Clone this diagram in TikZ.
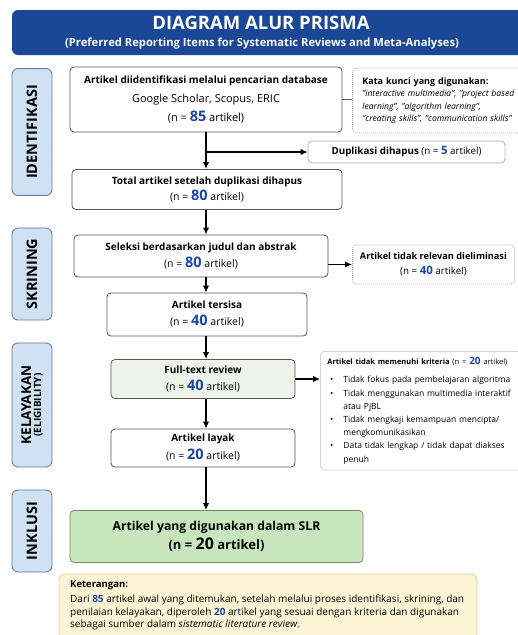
\documentclass[tikz,border=0pt]{standalone}
\usepackage{fontspec}
\setmainfont{Open Sans}
\usetikzlibrary{arrows.meta}

\definecolor{hdrblue}{RGB}{26,72,150}
\definecolor{numblue}{RGB}{28,68,160}
\definecolor{stagefill}{RGB}{207,226,243}
\definecolor{stageline}{RGB}{100,118,145}
\definecolor{boxgray}{RGB}{85,85,85}
\definecolor{sidegray}{RGB}{175,175,175}
\definecolor{ftfill}{RGB}{238,243,234}
\definecolor{slrfill}{RGB}{200,230,190}
\definecolor{slrline}{RGB}{105,145,95}
\definecolor{notefill}{RGB}{253,244,214}
\definecolor{noteline}{RGB}{228,208,145}

\newcommand{\nval}[1]{{\color{numblue}\bfseries\fontsize{14.5}{14}\selectfont #1}}
\newcommand{\sval}[1]{{\color{numblue}\bfseries\fontsize{11.5}{11}\selectfont #1}}

\begin{document}
\begin{tikzpicture}[x=1pt,y=-1pt,
    box/.style={draw=boxgray, fill=white, rounded corners=4pt, line width=0.8pt, align=center, inner sep=0pt},
    stage/.style={draw=stageline, fill=stagefill, rounded corners=6pt, line width=0.8pt, rotate=90, minimum height=40pt, align=center, inner sep=0pt},
    side/.style={draw=sidegray, fill=white, dash pattern=on 1pt off 1pt, rounded corners=4pt, line width=0.8pt, inner sep=0pt},
    flow/.style={-{Latex[length=7pt,width=6.5pt]}, line width=1.4pt}]
    \useasboundingbox (0,0) rectangle (518,635);
    \clip (0,0) rectangle (518,635);

    % Header %
    \fill[hdrblue, rounded corners=6pt] (12,10) rectangle (540,55);
    \node[text=white, font=\bfseries\fontsize{18.5}{18}\selectfont] (ttl) at (261,23) {DIAGRAM ALUR PRISMA};
    \node[text=white, font=\bfseries\fontsize{11.2}{11}\selectfont] (sub) at (262,43.5) {(Preferred Reporting Items for Systematic Reviews and Meta-Analyses)};

    % Stages %
    \node[stage, minimum width=127pt, font=\bfseries\fontsize{14.5}{15}\selectfont] (sid) at (32,132) {IDENTIFIKASI};
    \node[stage, minimum width=92pt, font=\bfseries\fontsize{14.5}{15}\selectfont] (ssk) at (32,274) {SKRINING};
    \node[stage, minimum width=124pt] (skl) at (32,405) {{\bfseries\fontsize{13.5}{14}\selectfont KELAYAKAN}\\[-2pt]{\bfseries\fontsize{10}{11}\selectfont (ELIGIBILITY)}};
    \node[stage, minimum width=82pt, font=\bfseries\fontsize{14.5}{15}\selectfont] (sin) at (32,531) {INKLUSI};

    % Main boxes %
    \coordinate (col) at (206,0);
    \node[box, minimum width=272pt, minimum height=65pt, font=\fontsize{11}{19}\selectfont] (idb) at (206,99.5)
        {{\bfseries\fontsize{10}{17}\selectfont Artikel diidentifikasi melalui pencarian database}\\Google Scholar, Scopus, ERIC\\(n = \nval{85} artikel)};
    \node[box, minimum width=270pt, minimum height=40pt, font=\fontsize{10.5}{16.5}\selectfont] (totb) at (207,189.5)
        {{\bfseries\fontsize{10}{16.5}\selectfont Total artikel setelah duplikasi dihapus}\\(n = \nval{80} artikel)};
    \node[box, minimum width=254pt, minimum height=42pt, font=\fontsize{10.5}{16.5}\selectfont] (sel) at (201,256)
        {{\bfseries\fontsize{10}{16.5}\selectfont Seleksi berdasarkan judul dan abstrak}\\(n = \nval{80} artikel)};
    \node[box, minimum width=200pt, minimum height=43pt, font=\fontsize{10.5}{17}\selectfont] (rem) at (207,314.5)
        {{\bfseries\fontsize{10}{17}\selectfont Artikel tersisa}\\(n = \nval{40} artikel)};
    \node[box, fill=ftfill, minimum width=184pt, minimum height=39pt, font=\fontsize{10.5}{17}\selectfont] (ft) at (203,379)
        {{\bfseries\fontsize{10}{17}\selectfont Full-text review}\\(n = \nval{40} artikel)};
    \node[box, minimum width=184pt, minimum height=38pt, font=\fontsize{10.5}{18}\selectfont] (lay) at (203,448)
        {{\bfseries\fontsize{10}{18}\selectfont Artikel layak}\\(n = \nval{20} artikel)};
    \node[box, draw=slrline, fill=slrfill, minimum width=293pt, minimum height=52pt, font=\bfseries\fontsize{12.2}{19.5}\selectfont] (slr) at (216.5,536.5)
        {Artikel yang digunakan dalam SLR\\{\fontsize{13}{19.5}\selectfont (n = {\fontsize{16}{16}\selectfont 20} artikel)}};

    % Side boxes %
    \node[side, anchor=west, minimum height=65pt, text width=200pt, inner xsep=10pt, align=left, font=\fontsize{8.6}{12.3}\selectfont] (kw) at (352,100.5)
        {{\bfseries\fontsize{9}{12.3}\selectfont Kata kunci yang digunakan:}\\\itshape "interactive multimedia", "project based\\learning", "algorithm learning",\\"creating skills", "communication skills"};
    \node[box, draw=sidegray, minimum width=197pt, minimum height=22pt, font=\fontsize{9.8}{11}\selectfont] (dup) at (406.5,152)
        {\textbf{Duplikasi dihapus} (n = \sval{5} artikel)};
    \node[side, anchor=west, minimum width=162pt, minimum height=39pt, font=\fontsize{9.8}{14.5}\selectfont, align=center] (excl) at (352,264.5)
        {\textbf{\fontsize{9.2}{14.5}\selectfont Artikel tidak relevan dieliminasi}\\(n = \sval{40} artikel)};
    \node[side, anchor=north west, minimum height=117pt, text width=210pt, inner xsep=7pt, inner ysep=6pt, align=left, font=\fontsize{8.5}{13.2}\selectfont] (nelig) at (320,351)
        {{\bfseries\fontsize{7.5}{13}\selectfont Artikel tidak memenuhi kriteria} {\fontsize{7.5}{13}\selectfont (n = {\color{numblue}\bfseries\fontsize{10}{10}\selectfont 20} artikel)}\\[5pt]
        \makebox[16pt][l]{\ •}Tidak fokus pada pembelajaran algoritma\\
        \makebox[16pt][l]{\ •}Tidak menggunakan multimedia interaktif\\
        \hspace*{16pt}atau PjBL\\
        \makebox[16pt][l]{\ •}Tidak mengkaji kemampuan mencipta/\\
        \hspace*{16pt}mengkomunikasikan\\
        \makebox[16pt][l]{\ •}Data tidak lengkap / tidak dapat diakses\\
        \hspace*{16pt}penuh};

    % Note %
    \fill[notefill, draw=noteline, line width=0.8pt, rounded corners=6pt] (59,574) rectangle (477,660);
    \node[anchor=north west, align=left, inner sep=0pt, font=\fontsize{10}{12.8}\selectfont] (note) at (70,581)
        {{\bfseries\fontsize{9.5}{12.8}\selectfont Keterangan:}\\[1.5pt]
        Dari \textcolor{numblue}{\textbf{85}} artikel awal yang ditemukan, setelah melalui proses identifikasi, skrining, dan\\
        penilaian kelayakan, diperoleh \textcolor{numblue}{\textbf{20}} artikel yang sesuai dengan kriteria dan digunakan\\
        sebagai sumber dalam \textit{sistematic literature review}.};

    % Connectors %
    \draw[flow] (idb.south -| col) -- (totb.north -| col);
    \draw[flow] (col |- dup.west) -- (dup.west);
    \draw[line width=0.8pt, boxgray] (idb.east) -- (kw.west |- idb.east);
    \draw[flow] (totb.south -| col) -- (sel.north -| col);
    \draw[flow] (sel.east |- excl.west) -- (excl.west);
    \draw[flow] (sel.south -| col) -- (rem.north -| col);
    \draw[flow] (rem.south -| col) -- (ft.north -| col);
    \draw[flow] (ft.east) -- (ft.east -| nelig.west);
    \draw[flow] (ft.south -| col) -- (lay.north -| col);
    \draw[flow] (lay.south -| col) -- (slr.north -| col);
\end{tikzpicture}
\end{document}
